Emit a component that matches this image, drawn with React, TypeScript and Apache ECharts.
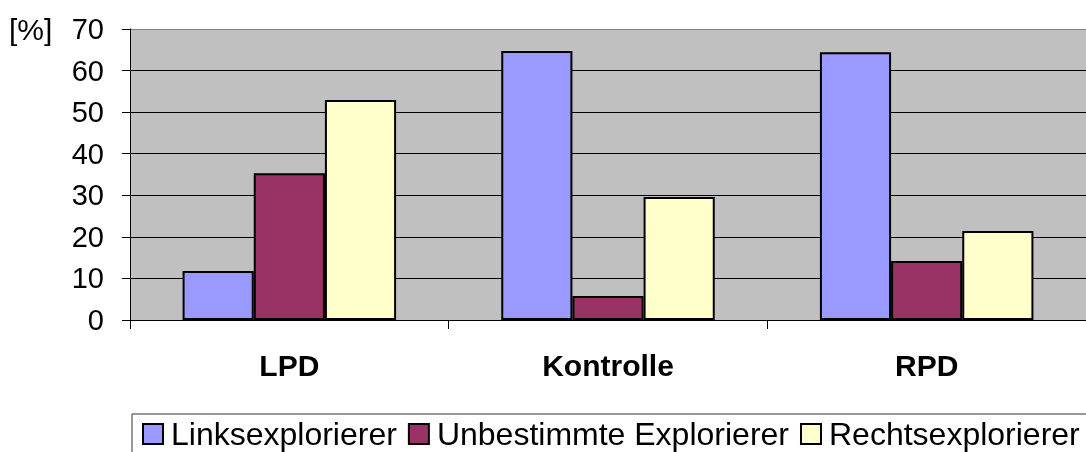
import React, { useEffect, useRef } from "react";
import * as echarts from "echarts";

const categories = ["LPD", "Kontrolle", "RPD"];
const seriesNames = ["Linksexplorierer", "Unbestimmte Explorierer", "Rechtsexplorierer"];
const links = [11.8, 64.7, 64.4];
const unbestimmt = [35.3, 5.8, 14.2];
const rechts = [52.9, 29.6, 21.4];
const colors = ["#9999FF", "#993366", "#FFFFCC"];
const yTicks = { min: 0, max: 70, interval: 10 };
const yUnit = "[%]";

const FONT = "'Liberation Sans', Arial, Helvetica, sans-serif";

export default function App() {
  const ref = useRef<HTMLDivElement>(null);
  useEffect(() => {
    if (!ref.current) return;
    const chart = echarts.init(ref.current, null, { renderer: "svg" });
    const values = [links, unbestimmt, rechts];
    chart.setOption({
      animation: false,
      textStyle: { fontFamily: FONT },
      grid: { left: 130, top: 29, right: -4, bottom: 132, show: true, backgroundColor: "#C0C0C0", borderWidth: 0 },
      graphic: [
        { type: "text", left: 9, top: 14, style: { text: yUnit, font: `30px ${FONT}`, fill: "#000" } },
      ],
      legend: {
        left: 132,
        top: 414,
        width: 1200,
        padding: [4, 40, 12, 10],
        itemGap: 11,
        itemWidth: 20,
        itemHeight: 20,
        icon: "rect",
        borderColor: "#333",
        borderWidth: 1,
        textStyle: { fontSize: 32, color: "#000", fontFamily: FONT, padding: [0, 0, 0, 3] },
        itemStyle: { borderColor: "#000", borderWidth: 2 },
        data: seriesNames,
      },
      xAxis: {
        type: "category",
        data: categories,
        axisLine: { lineStyle: { color: "#000", width: 1 } },
        axisTick: { show: true, length: 9, lineStyle: { color: "#000" } },
        axisLabel: { fontSize: 30, fontWeight: "bold", color: "#000", margin: 30, fontFamily: FONT },
      },
      yAxis: {
        type: "value",
        min: yTicks.min,
        max: yTicks.max,
        interval: yTicks.interval,
        axisLine: { show: true, lineStyle: { color: "#000", width: 1 } },
        axisTick: { show: true, length: 8, lineStyle: { color: "#000" } },
        axisLabel: { fontSize: 29, color: "#000", margin: 26, fontFamily: FONT },
        splitLine: {
          show: true,
          lineStyle: { color: ["#000", "#000", "#000", "#000", "#000", "#000", "#000", "#808080"], width: 1 },
        },
      },
      series: seriesNames.map((name, i) => ({
        name,
        type: "bar",
        data: values[i],
        barGap: "0%",
        barCategoryGap: "33%",
        itemStyle: { color: colors[i], borderColor: "#000", borderWidth: 2 },
      })),
    });
    return () => chart.dispose();
  }, []);
  return <div ref={ref} style={{ position: "fixed", left: 0, top: 0, width: 1086, height: 452 }} />;
}
